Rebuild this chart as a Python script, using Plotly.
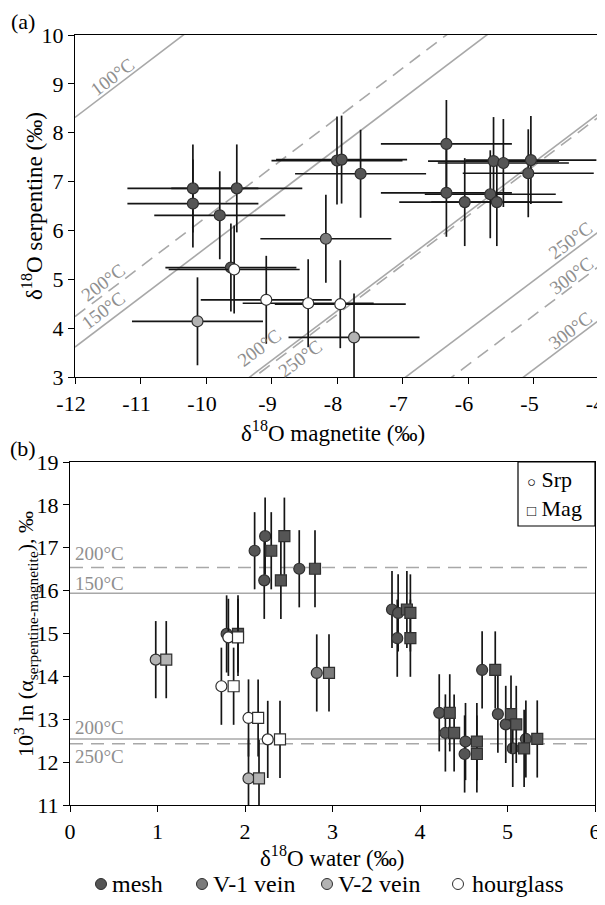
import math
import plotly.graph_objects as go

# ---------------- Panel (a): d18O magnetite vs d18O serpentine ----------------
mesh_mag = [-10.20, -10.20, -9.53, -9.79, -9.62, -8.00, -7.93, -7.64, -6.33, -6.33,
            -6.05, -5.66, -5.61, -5.56, -5.46, -5.04, -5.08]
mesh_srp = [6.86, 6.55, 6.86, 6.31, 5.24, 7.43, 7.45, 7.16, 7.77, 6.77,
            6.58, 6.74, 7.42, 6.58, 7.38, 7.44, 7.17]
v1_mag = [-8.17]
v1_srp = [5.83]
v2_mag = [-10.13, -7.74]
v2_srp = [4.14, 3.81]
hg_mag = [-9.57, -9.08, -8.44, -7.95]
hg_srp = [5.20, 4.58, 4.51, 4.49]
err_mag = 1.0
err_srp = 0.9

a_xtick_vals = [-12, -11, -10, -9, -8, -7, -6, -5, -4]
a_xtick_text = ["-12", "-11", "-10", "-9", "-8", "-7", "-6", "-5", "-4"]

# isotherms (10^3 ln alpha) for two calibrations
solid_labels = ["100°C", "150°C", "200°C", "250°C", "300°C"]
solid_A = [20.35, 15.68, 12.37, 9.97, 8.16]
dashed_labels = ["200°C", "250°C", "300°C"]
dashed_A = [16.30, 12.30, 9.26]

# ---------------- Panel (b): d18O water vs 10^3 ln alpha ----------------
mesh_alpha = [16.93, 17.27, 16.24, 16.51, 15.56, 15.48, 14.89, 14.15, 13.15, 12.68,
              12.48, 12.19, 13.12, 12.88, 12.32, 12.54, 14.99]
mesh_w_srp = [2.11, 2.23, 2.22, 2.62, 3.68, 3.75, 3.74, 4.71, 4.22, 4.29,
              4.52, 4.51, 4.89, 4.98, 5.06, 5.21, 1.79]
mesh_w_mag = [2.30, 2.45, 2.41, 2.80, 3.85, 3.89, 3.89, 4.86, 4.34, 4.39,
              4.65, 4.65, 5.04, 5.10, 5.19, 5.34, 1.92]
v1_alpha = [14.08]
v1_w_srp = [2.82]
v1_w_mag = [2.96]
v2_alpha = [14.39, 11.62]
v2_w_srp = [0.98, 2.04]
v2_w_mag = [1.10, 2.16]
hg_alpha = [14.91, 13.77, 13.03, 12.53]
hg_w_srp = [1.81, 1.73, 2.04, 2.26]
hg_w_mag = [1.92, 1.87, 2.15, 2.40]
err_alpha = 0.9

b_solid_labels = ["150°C", "200°C"]
b_solid_vals = [15.94, 12.54]
b_dashed_labels = ["200°C", "250°C"]
b_dashed_vals = [16.54, 12.43]

group_names = ["mesh", "V-1 vein", "V-2 vein", "hourglass"]
group_colors = ["#555555", "#7b7b7b", "#b3b3b3", "#ffffff"]

FONT = "Liberation Serif, Times New Roman, Times, serif"
FS = 22
GUIDE = "#a8a8a8"
LABEL = "#8f8f8f"
EDGE = "#2f2f2f"
BAR = "#151515"

W, H = 605, 905
OFF = 8  # page body margin of the browser
# pixel boxes (viewport pixels) of the two plot areas
A_BOX = (75, 599, 35, 377)
B_BOX = (70, 595, 462, 805)


def px(v):
    return (v - OFF) / W


def py(v):
    return 1 - (v - OFF) / H


fig = go.Figure()

# isotherm lines in panel (a)
xl = [-12, -4]
for lab, A in zip(solid_labels, solid_A):
    k = math.exp(A / 1000)
    fig.add_trace(go.Scatter(x=xl, y=[(1000 + v) * k - 1000 for v in xl], mode="lines",
                             line=dict(color=GUIDE, width=1.6), hoverinfo="skip",
                             showlegend=False, xaxis="x", yaxis="y", name=lab))
for lab, A in zip(dashed_labels, dashed_A):
    k = math.exp(A / 1000)
    fig.add_trace(go.Scatter(x=xl, y=[(1000 + v) * k - 1000 for v in xl], mode="lines",
                             line=dict(color=GUIDE, width=1.6, dash="13px,8px"), hoverinfo="skip",
                             showlegend=False, xaxis="x", yaxis="y", name=lab))

# horizontal isotherms in panel (b)
for lab, v in zip(b_solid_labels, b_solid_vals):
    fig.add_trace(go.Scatter(x=[0, 6], y=[v, v], mode="lines",
                             line=dict(color=GUIDE, width=1.6), hoverinfo="skip",
                             showlegend=False, xaxis="x2", yaxis="y2", name=lab))
for lab, v in zip(b_dashed_labels, b_dashed_vals):
    fig.add_trace(go.Scatter(x=[0, 6], y=[v, v], mode="lines",
                             line=dict(color=GUIDE, width=1.6, dash="13px,8px"), hoverinfo="skip",
                             showlegend=False, xaxis="x2", yaxis="y2", name=lab))

a_groups = [(mesh_mag, mesh_srp), (v1_mag, v1_srp), (v2_mag, v2_srp), (hg_mag, hg_srp)]
b_groups = [(mesh_w_srp, mesh_w_mag, mesh_alpha), (v1_w_srp, v1_w_mag, v1_alpha),
            (v2_w_srp, v2_w_mag, v2_alpha), (hg_w_srp, hg_w_mag, hg_alpha)]

for name, col, (mx, sy) in zip(group_names, group_colors, a_groups):
    fig.add_trace(go.Scatter(
        x=mx, y=sy, mode="markers", name=name, showlegend=False, xaxis="x", yaxis="y",
        marker=dict(symbol="circle", size=11, color=col, line=dict(color=EDGE, width=1.2)),
        error_x=dict(type="constant", value=err_mag, color=BAR, thickness=1.7, width=0),
        error_y=dict(type="constant", value=err_srp, color=BAR, thickness=1.7, width=0)))

for name, col, (ws, wm, al) in zip(group_names, group_colors, b_groups):
    fig.add_trace(go.Scatter(
        x=ws, y=al, mode="markers", name=name + " Srp", showlegend=False, xaxis="x2", yaxis="y2",
        marker=dict(symbol="circle", size=11, color=col, line=dict(color=EDGE, width=1.2)),
        error_y=dict(type="constant", value=err_alpha, color=BAR, thickness=1.7, width=0)))
    fig.add_trace(go.Scatter(
        x=wm, y=al, mode="markers", name=name + " Mag", showlegend=False, xaxis="x2", yaxis="y2",
        marker=dict(symbol="square", size=11, color=col, line=dict(color=EDGE, width=1.2)),
        error_y=dict(type="constant", value=err_alpha, color=BAR, thickness=1.7, width=0)))

axis_common = dict(showline=True, linecolor="black", linewidth=1.2, mirror=True,
                   ticks="outside", ticklen=6, tickcolor="black", tickwidth=1.2,
                   showgrid=False, zeroline=False, automargin=False,
                   tickfont=dict(family=FONT, size=FS, color="black"))

ann = []
# isotherm labels panel (a)
ang = -math.degrees(math.atan((A_BOX[3] - A_BOX[2]) / 7 / ((A_BOX[1] - A_BOX[0]) / 8)))
a_label_pos = [("100°C", -11.42, 9.15), ("200°C", -11.57, 4.93), ("150°C", -11.57, 4.36),
               ("200°C", -9.18, 3.60), ("250°C", -8.56, 3.37), ("250°C", -4.44, 5.80),
               ("300°C", -4.42, 5.08), ("300°C", -4.44, 3.95)]
for t, x, y in a_label_pos:
    ann.append(dict(text=t, x=x, y=y, xref="x", yref="y", showarrow=False, textangle=ang,
                    xanchor="center", yanchor="middle",
                    font=dict(family=FONT, size=19, color=LABEL)))
# isotherm labels panel (b)
b_label_pos = [("200°C", 16.86), ("150°C", 16.17), ("200°C", 12.80), ("250°C", 12.12)]
for t, y in b_label_pos:
    ann.append(dict(text=t, x=0.03, y=y, xref="x2", yref="y2", showarrow=False,
                    xanchor="left", yanchor="middle",
                    font=dict(family=FONT, size=19, color=LABEL)))

# titles / panel letters
ann += [
    dict(text="(a)", x=px(23), y=py(21), xref="paper", yref="paper", showarrow=False,
         xanchor="center", yanchor="middle", font=dict(family=FONT, size=FS, color="black")),
    dict(text="(b)", x=px(23), y=py(448), xref="paper", yref="paper", showarrow=False,
         xanchor="center", yanchor="middle", font=dict(family=FONT, size=FS, color="black")),
    dict(text="δ<sup>18</sup>O magnetite (‰)", x=px(333), y=py(431),
         xref="paper", yref="paper", showarrow=False, xanchor="center", yanchor="middle",
         font=dict(family=FONT, size=23, color="black")),
    dict(text="δ<sup>18</sup>O serpentine (‰)", x=px(32), y=py((A_BOX[2] + A_BOX[3]) / 2),
         xref="paper", yref="paper", showarrow=False, textangle=-90,
         xanchor="center", yanchor="middle", font=dict(family=FONT, size=23, color="black")),
    dict(text="δ<sup>18</sup>O water (‰)", x=px(332), y=py(856),
         xref="paper", yref="paper", showarrow=False, xanchor="center", yanchor="middle",
         font=dict(family=FONT, size=23, color="black")),
    dict(text="10<sup>3</sup> ln (α<sub>serpentine-magnetite</sub>), ‰", x=px(25),
         y=py(634), xref="paper", yref="paper", showarrow=False, textangle=-90,
         xanchor="center", yanchor="middle", font=dict(family=FONT, size=22, color="black")),
    # Srp / Mag key
    dict(text="<span style='font-size:15px'>○</span> Srp", x=px(525), y=py(479),
         xref="paper", yref="paper", showarrow=False, xanchor="left", yanchor="middle",
         font=dict(family=FONT, size=FS, color="black")),
    dict(text="<span style='font-size:15px'>□</span> Mag", x=px(525), y=py(508),
         xref="paper", yref="paper", showarrow=False, xanchor="left", yanchor="middle",
         font=dict(family=FONT, size=FS, color="black")),
]

shapes = [dict(type="rect", xref="paper", yref="paper", x0=px(518), x1=px(595),
               y0=py(526), y1=py(462), line=dict(color="black", width=1.2),
               fillcolor="white", layer="above")]

# bottom key (group symbols and names)
key_y = 884
key_sym_x = [101, 202, 327, 458]
key_txt_x = [110, 211, 336, 470]
for name, col, sx, tx in zip(group_names, group_colors, key_sym_x, key_txt_x):
    shapes.append(dict(type="circle", xref="paper", yref="paper",
                       x0=px(sx - 5.5), x1=px(sx + 5.5), y0=py(key_y + 5.5), y1=py(key_y - 5.5),
                       fillcolor=col, line=dict(color=EDGE, width=1), layer="above"))
    ann.append(dict(text=name, x=px(tx), y=py(key_y), xref="paper", yref="paper",
                    showarrow=False, xanchor="left", yanchor="middle",
                    font=dict(family=FONT, size=24, color="black")))

fig.update_layout(
    template="none", showlegend=False,
    width=W, height=H, margin=dict(l=0, r=0, t=0, b=0, autoexpand=False),
    paper_bgcolor="white", plot_bgcolor="white",
    font=dict(family=FONT, size=FS, color="black"),
    xaxis=dict(domain=[px(A_BOX[0]), px(A_BOX[1])], range=[-12, -4], anchor="y",
               tickmode="array", tickvals=a_xtick_vals, ticktext=a_xtick_text,
               ticklabelshift=-4, **axis_common),
    yaxis=dict(domain=[py(A_BOX[3]), py(A_BOX[2])], range=[3, 10], dtick=1, anchor="x",
               **axis_common),
    xaxis2=dict(domain=[px(B_BOX[0]), px(B_BOX[1])], range=[0, 6], dtick=1, anchor="y2",
                **axis_common),
    yaxis2=dict(domain=[py(B_BOX[3]), py(B_BOX[2])], range=[11, 19], dtick=1, anchor="x2",
                **axis_common),
    annotations=ann,
    shapes=shapes,
)

fig.write_html("out.html")
